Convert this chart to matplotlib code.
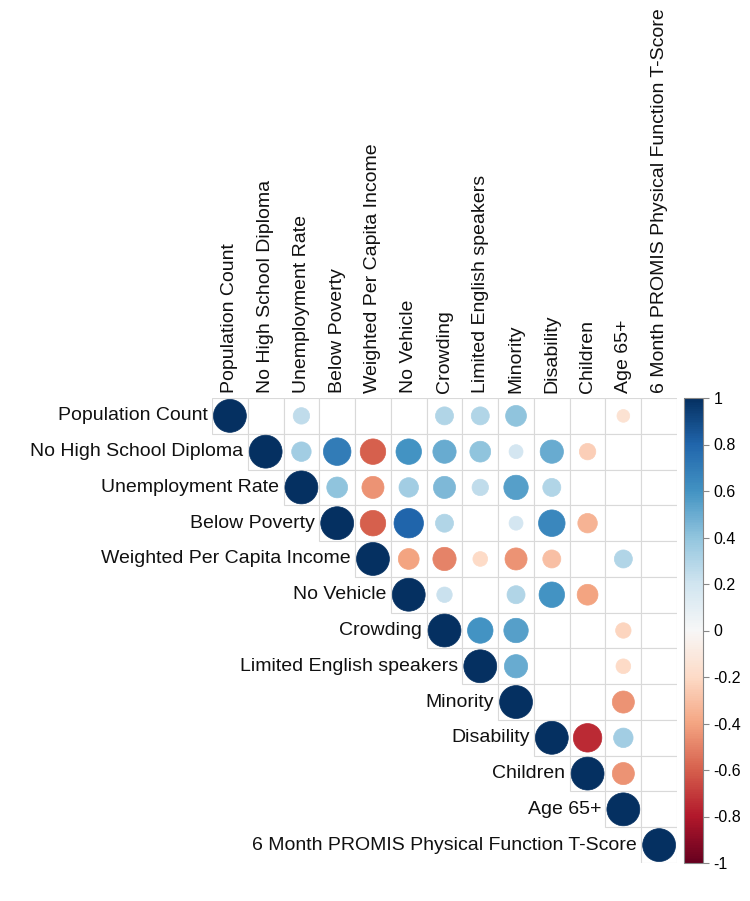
import numpy as np
import matplotlib
matplotlib.use("Agg")
import matplotlib.pyplot as plt
from matplotlib.patches import Circle, Rectangle
from matplotlib.colors import Normalize
from matplotlib.colorbar import ColorbarBase

plt.rcParams['font.family'] = ['Liberation Sans', 'DejaVu Sans']

variables = ["Population Count", "No High School Diploma", "Unemployment Rate",
             "Below Poverty", "Weighted Per Capita Income", "No Vehicle", "Crowding",
             "Limited English speakers", "Minority", "Disability", "Children",
             "Age 65+", "6 Month PROMIS Physical Function T-Score"]

N = np.nan
# upper-triangle correlations, one row per variable (NaN = blank / not shown)
row_population = [1, N, 0.25, N, N, N, 0.3, 0.3, 0.4, N, N, -0.15, N]
row_no_hs      = [N, 1, 0.35, 0.7, -0.6, 0.6, 0.5, 0.4, 0.18, 0.5, -0.25, N, N]
row_unemp      = [N, N, 1, 0.4, -0.45, 0.35, 0.45, 0.25, 0.55, 0.3, N, N, N]
row_poverty    = [N, N, N, 1, -0.6, 0.8, 0.3, N, 0.18, 0.65, -0.35, N, N]
row_income     = [N, N, N, N, 1, -0.4, -0.5, -0.2, -0.45, -0.3, N, 0.3, N]
row_vehicle    = [N, N, N, N, N, 1, 0.22, N, 0.3, 0.6, -0.4, N, N]
row_crowding   = [N, N, N, N, N, N, 1, 0.6, 0.55, N, N, -0.22, N]
row_english    = [N, N, N, N, N, N, N, 1, 0.5, N, N, -0.2, N]
row_minority   = [N, N, N, N, N, N, N, N, 1, N, N, -0.45, N]
row_disability = [N, N, N, N, N, N, N, N, N, 1, -0.75, 0.35, N]
row_children   = [N, N, N, N, N, N, N, N, N, N, 1, -0.45, N]
row_age65      = [N, N, N, N, N, N, N, N, N, N, N, 1, N]
row_promis     = [N, N, N, N, N, N, N, N, N, N, N, N, 1]

corr = np.array([row_population, row_no_hs, row_unemp, row_poverty, row_income,
                 row_vehicle, row_crowding, row_english, row_minority, row_disability,
                 row_children, row_age65, row_promis], dtype=float)

cbar_ticks = [-1, -0.8, -0.6, -0.4, -0.2, 0, 0.2, 0.4, 0.6, 0.8, 1]
cbar_labels = ["-1", "-0.8", "-0.6", "-0.4", "-0.2", "0", "0.2", "0.4", "0.6", "0.8", "1"]

n = len(variables)
cmap = plt.get_cmap('RdBu')
norm = Normalize(-1, 1)

fig = plt.figure(figsize=(7.5, 9.01), dpi=100)
ax = fig.add_axes([212/750, 1 - 863/901, 465/750, 465/901])
ax.set_xlim(0, n)
ax.set_ylim(n, 0)
ax.set_aspect('equal')
ax.axis('off')

grid_col = '#d9d9d9'
for i in range(n):
    for j in range(i, n):
        ax.add_patch(Rectangle((j, i), 1, 1, facecolor='white', edgecolor=grid_col,
                               linewidth=0.8, zorder=1))
        v = corr[i, j]
        if not np.isnan(v):
            r = 0.46 * np.sqrt(abs(v))
            ax.add_patch(Circle((j + 0.5, i + 0.5), r, facecolor=cmap(norm(v)),
                                edgecolor=cmap(norm(v)), linewidth=0.5, zorder=2))

for i, name in enumerate(variables):
    ax.text(i - 0.12, i + 0.5, name, ha='right', va='center', fontsize=14,
            color='#111111', clip_on=False)
    ax.text(i + 0.5, -0.15, name, ha='center', va='bottom', rotation=90,
            fontsize=14, color='#111111', clip_on=False)

cax = fig.add_axes([684/750, 1 - 863/901, 19/750, 465/901])
cb = ColorbarBase(cax, cmap=cmap, norm=norm, orientation='vertical')
cb.set_ticks(cbar_ticks)
cb.set_ticklabels(cbar_labels)
cb.outline.set_edgecolor('#888888')
cb.outline.set_linewidth(0.8)
cax.tick_params(labelsize=11.5, length=4, color='#888888', width=0.8)

fig.savefig('out.png', dpi=100, facecolor='white')
